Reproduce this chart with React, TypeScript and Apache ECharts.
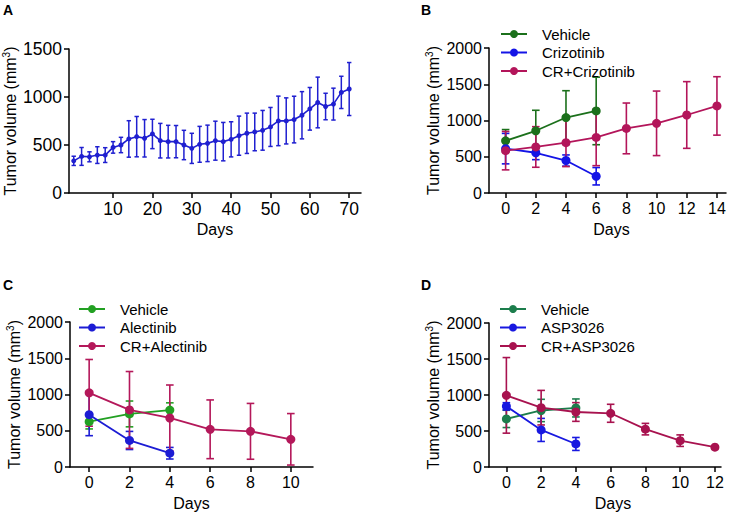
import React, { useEffect, useRef } from "react";
import * as echarts from "echarts";

const FONT = "'Liberation Sans', Arial, Helvetica, sans-serif";

// Panel A
const daysA = [0, 2, 4, 6, 8, 10, 12, 14, 16, 18, 20, 22, 24, 26, 28, 30, 32, 34, 36, 38, 40, 42, 44, 46, 48, 50, 52, 54, 56, 58, 60, 62, 64, 66, 68, 70];
const meanA = [335, 381, 377, 395, 395, 475, 500, 563, 587, 570, 615, 545, 535, 535, 500, 465, 507, 517, 545, 535, 559, 597, 622, 636, 653, 688, 751, 751, 765, 810, 877, 943, 901, 926, 1048, 1083];
const errA = [48, 93, 52, 87, 77, 60, 80, 190, 210, 195, 153, 180, 170, 168, 153, 157, 187, 190, 203, 200, 183, 204, 210, 196, 207, 203, 258, 240, 243, 246, 222, 264, 138, 166, 168, 276];
const ticksA = [10, 20, 30, 40, 50, 60, 70];

// Panel B
const namesB = ["Vehicle", "Crizotinib", "CR+Crizotinib"];
const daysB1 = [0, 2, 4, 6];
const vehicleB = [720, 858, 1041, 1132];
const vehicleBErr = [155, 283, 370, 466];
const crizB = [612, 555, 448, 231];
const crizBErr = [210, 95, 77, 120];
const daysB2 = [0, 2, 4, 6, 8, 10, 12, 14];
const crCrizB = [584, 635, 694, 767, 891, 961, 1076, 1201];
const crCrizBErr = [265, 280, 330, 390, 350, 445, 460, 403];
const ticksB = [0, 2, 4, 6, 8, 10, 12, 14];

// Panel C
const namesC = ["Vehicle", "Alectinib", "CR+Alectinib"];
const daysC1 = [0, 2, 4];
const vehicleC = [625, 732, 785];
const vehicleCErr = [100, 178, 100];
const alecC = [722, 366, 190];
const alecCErr = [290, 125, 80];
const daysC2 = [0, 2, 4, 6, 8, 10];
const crAlecC = [1023, 787, 676, 520, 492, 382];
const crAlecCErr = [460, 530, 455, 405, 385, 355];
const ticksC = [0, 2, 4, 6, 8, 10];

// Panel D
const namesD = ["Vehicle", "ASP3026", "CR+ASP3026"];
const daysD1 = [0, 2, 4];
const vehicleD = [668, 785, 820];
const vehicleDErr = [120, 155, 125];
const aspD = [843, 515, 320];
const aspDErr = [50, 160, 90];
const daysD2 = [0, 2, 4, 6, 8, 10, 12];
const crAspD = [995, 824, 764, 746, 526, 366, 275];
const crAspDErr = [525, 240, 130, 125, 80, 80, 20];
const ticksD = [0, 2, 4, 6, 8, 10, 12];

const COL = {
  A: "#1f1fd0",
  B: ["#1b701b", "#1414e6", "#b3155a"],
  C: ["#22a022", "#1c1cd4", "#b4185a"],
  D: ["#1c7d4c", "#1818e0", "#a8124f"],
};

function errSeries(name: string, days: number[], mean: number[], err: number[], color: string, axis: number, cap: number, width: number) {
  return {
    type: "custom",
    name,
    xAxisIndex: axis,
    yAxisIndex: axis,
    z: 1,
    silent: true,
    data: days.map((d, i) => [d, mean[i], err[i]]),
    encode: { x: 0, y: 1 },
    renderItem: (params: any, api: any) => {
      const x = api.value(0);
      const y = api.value(1);
      const e = api.value(2);
      const t = api.coord([x, y + e]);
      const b = api.coord([x, y - e]);
      const st = { stroke: color, lineWidth: width };
      return {
        type: "group",
        children: [
          { type: "line", shape: { x1: t[0], y1: t[1], x2: b[0], y2: b[1] }, style: st },
          { type: "line", shape: { x1: t[0] - cap, y1: t[1], x2: t[0] + cap, y2: t[1] }, style: st },
          { type: "line", shape: { x1: b[0] - cap, y1: b[1], x2: b[0] + cap, y2: b[1] }, style: st },
        ],
      };
    },
  };
}

function lineSeries(name: string, days: number[], mean: number[], color: string, axis: number, size: number, width: number) {
  return {
    type: "line",
    name,
    xAxisIndex: axis,
    yAxisIndex: axis,
    z: 3,
    data: days.map((d, i) => [d, mean[i]]),
    symbol: "circle",
    symbolSize: size,
    showSymbol: true,
    lineStyle: { color, width },
    itemStyle: { color },
    emphasis: { disabled: true },
  };
}

const axisLineStyle = { color: "#000", width: 1.5 };
const plain = (v: number) => String(v);

function xAx(idx: number, min: number, max: number, ticks: number[], fs: number, shift: number) {
  return {
    type: "value",
    gridIndex: idx,
    min,
    max,
    name: "Days",
    nameLocation: "middle",
    nameGap: 28,
    nameTextStyle: { fontSize: 16, color: "#000", fontFamily: FONT, padding: [0, 0, 0, shift] },
    axisLine: { show: true, onZero: false, lineStyle: axisLineStyle },
    axisTick: { show: true, length: 5, customValues: ticks, lineStyle: axisLineStyle },
    axisLabel: { customValues: ticks, formatter: plain, fontSize: fs, color: "#000", fontFamily: FONT, margin: 7 },
    splitLine: { show: false },
  };
}

function yAx(idx: number, max: number, fs: number) {
  return {
    type: "value",
    gridIndex: idx,
    min: 0,
    max,
    interval: 500,
    name: "Tumor volume (mm{sup|3})",
    nameLocation: "middle",
    nameRotate: 90,
    nameGap: 47,
    nameTextStyle: {
      fontSize: 16,
      color: "#000",
      fontFamily: FONT,
      lineHeight: 18,
      rich: { sup: { fontSize: 10, color: "#000", fontFamily: FONT, verticalAlign: "top", lineHeight: 10 } },
    },
    axisLine: { show: true, onZero: false, lineStyle: axisLineStyle },
    axisTick: { show: true, length: 5, lineStyle: axisLineStyle },
    axisLabel: { formatter: plain, fontSize: fs, color: "#000", fontFamily: FONT, margin: 7 },
    splitLine: { show: false },
  };
}

function legend(prefix: string, names: string[], left: number, top: number) {
  return {
    orient: "vertical",
    left,
    top,
    itemWidth: 26,
    itemHeight: 10,
    itemGap: 0.5,
    selectedMode: false,
    data: names.map((n) => prefix + n),
    formatter: (n: string) => n.slice(prefix.length),
    textStyle: { fontSize: 15, color: "#000", fontFamily: FONT, lineHeight: 18, padding: [0, 0, 0, 10] },
  };
}

function letter(t: string, left: number, top: number) {
  return { type: "text", left, top, style: { text: t, font: `bold 14px ${FONT}`, fill: "#000" } };
}

export default function App() {
  const ref = useRef<HTMLDivElement>(null);
  useEffect(() => {
    if (!ref.current) return;
    const chart = echarts.init(ref.current, null, { renderer: "svg" });
    const option: any = {
      animation: false,
      backgroundColor: "#fff",
      graphic: [letter("A", 3, 3), letter("B", 421, 3), letter("C", 3, 278), letter("D", 421, 278)],
      grid: [
        { left: 69, top: 49, width: 292, height: 144 },
        { left: 489, top: 48, width: 237, height: 145 },
        { left: 70, top: 322, width: 243, height: 145 },
        { left: 489, top: 323, width: 232, height: 144 },
      ],
      xAxis: [
        xAx(0, -1.2, 73, ticksA, 17.5, 0),
        xAx(1, -1.1, 14.6, ticksB, 16, 8),
        xAx(2, -0.95, 11.1, ticksC, 16, 0),
        xAx(3, -1.0, 12.35, ticksD, 16, 16),
      ],
      yAxis: [yAx(0, 1500, 17.5), yAx(1, 2000, 16), yAx(2, 2000, 16), yAx(3, 2000, 16)],
      legend: [
        legend("B:", namesB, 495, 20),
        legend("C:", namesC, 73, 295),
        legend("D:", namesD, 494, 295),
      ],
      series: [
        errSeries("A:err", daysA, meanA, errA, COL.A, 0, 2.2, 1.5),
        lineSeries("A:Tumor", daysA, meanA, COL.A, 0, 5, 1.6),

        errSeries("B:e0", daysB1, vehicleB, vehicleBErr, COL.B[0], 1, 3.8, 1.6),
        errSeries("B:e1", daysB1, crizB, crizBErr, COL.B[1], 1, 3.8, 1.6),
        errSeries("B:e2", daysB2, crCrizB, crCrizBErr, COL.B[2], 1, 3.8, 1.6),
        lineSeries("B:" + namesB[0], daysB1, vehicleB, COL.B[0], 1, 9, 1.8),
        lineSeries("B:" + namesB[1], daysB1, crizB, COL.B[1], 1, 9, 1.8),
        lineSeries("B:" + namesB[2], daysB2, crCrizB, COL.B[2], 1, 9, 1.8),

        errSeries("C:e0", daysC1, vehicleC, vehicleCErr, COL.C[0], 2, 3.8, 1.6),
        errSeries("C:e1", daysC1, alecC, alecCErr, COL.C[1], 2, 3.8, 1.6),
        errSeries("C:e2", daysC2, crAlecC, crAlecCErr, COL.C[2], 2, 3.8, 1.6),
        lineSeries("C:" + namesC[0], daysC1, vehicleC, COL.C[0], 2, 9, 1.8),
        lineSeries("C:" + namesC[1], daysC1, alecC, COL.C[1], 2, 9, 1.8),
        lineSeries("C:" + namesC[2], daysC2, crAlecC, COL.C[2], 2, 9, 1.8),

        errSeries("D:e0", daysD1, vehicleD, vehicleDErr, COL.D[0], 3, 3.8, 1.6),
        errSeries("D:e1", daysD1, aspD, aspDErr, COL.D[1], 3, 3.8, 1.6),
        errSeries("D:e2", daysD2, crAspD, crAspDErr, COL.D[2], 3, 3.8, 1.6),
        lineSeries("D:" + namesD[0], daysD1, vehicleD, COL.D[0], 3, 9, 1.8),
        lineSeries("D:" + namesD[1], daysD1, aspD, COL.D[1], 3, 9, 1.8),
        lineSeries("D:" + namesD[2], daysD2, crAspD, COL.D[2], 3, 9, 1.8),
      ],
    };
    chart.setOption(option);
    return () => chart.dispose();
  }, []);
  return <div ref={ref} style={{ position: "fixed", left: 0, top: 0, width: 736, height: 515, background: "#fff" }} />;
}
